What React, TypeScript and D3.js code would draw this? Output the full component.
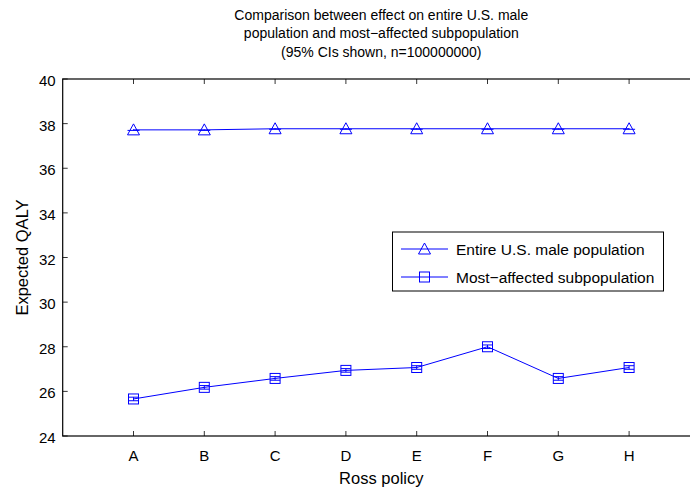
import React from 'react';
import * as d3 from 'd3';

const POLICIES = ['A', 'B', 'C', 'D', 'E', 'F', 'G', 'H'];
const ENTIRE = [37.72, 37.72, 37.77, 37.77, 37.77, 37.77, 37.77, 37.77];
const SUBPOP = [25.66, 26.18, 26.58, 26.94, 27.07, 28.0, 26.58, 27.07];
const CI_HALF = 0.08;
const Y_TICKS = [24, 26, 28, 30, 32, 34, 36, 38, 40];
const TITLE = [
  'Comparison between effect on entire U.S. male',
  'population and most\u2212affected subpopulation',
  '(95% CIs shown, n=100000000)',
];
const LEGEND = ['Entire U.S. male population', 'Most\u2212affected subpopulation'];

const W = 690;
const H = 489;
const FONT = 'Liberation Sans, Arial, Helvetica, sans-serif';
const BLUE = '#0000ff';

const triangle = (x: number, y: number) =>
  `M${x},${y - 6} L${x + 6},${y + 5} L${x - 6},${y + 5} Z`;

const App = () => {
  const left = 62.7;
  const top = 79;
  const bottom = 436;
  const x = d3.scaleLinear().domain([0, 9]).range([left, left + 9 * 70.8]);
  const y = d3.scaleLinear().domain([24, 40]).range([bottom, top]);
  const right = x(9);
  const line = d3
    .line<number>()
    .x((_, i) => x(i + 1))
    .y((d) => y(d));
  const tickLen = 5;

  return (
    <svg
      width={W}
      height={H}
      style={{ position: 'absolute', left: 0, top: 0, background: '#fff' }}
      fontFamily={FONT}
    >
      <rect x={0} y={0} width={W} height={H} fill="#fff" />
      {/* title */}
      {TITLE.map((t, i) => (
        <text key={'t' + i} x={(left + right) / 2} y={19.5 + i * 18.5} textAnchor="middle" fontSize={14}>
          {t}
        </text>
      ))}
      {/* box */}
      <rect x={left} y={top} width={right - left} height={bottom - top} fill="none" stroke="#000" strokeWidth={1.2} />
      {/* x ticks */}
      {POLICIES.map((p, i) => {
        const xx = x(i + 1);
        return (
          <g key={'xt' + p}>
            <line x1={xx} x2={xx} y1={bottom} y2={bottom - tickLen} stroke="#000" strokeWidth={0.8} />
            <line x1={xx} x2={xx} y1={top} y2={top + tickLen} stroke="#000" strokeWidth={0.8} />
            <text x={xx} y={bottom + 24.5} textAnchor="middle" fontSize={15}>
              {p}
            </text>
          </g>
        );
      })}
      {/* y ticks */}
      {Y_TICKS.map((t) => {
        const yy = y(t);
        return (
          <g key={'yt' + t}>
            <line x1={left} x2={left + tickLen} y1={yy} y2={yy} stroke="#000" strokeWidth={0.8} />
            <text x={left - 7} y={yy + 7} textAnchor="end" fontSize={15}>
              {t}
            </text>
          </g>
        );
      })}
      <text x={(left + right) / 2} y={484} textAnchor="middle" fontSize={16.5}>
        Ross policy
      </text>
      <text
        transform={`translate(28,${(top + bottom) / 2}) rotate(-90)`}
        textAnchor="middle"
        fontSize={16.5}
      >
        Expected QALY
      </text>
      {/* series */}
      <path d={line(ENTIRE) || ''} fill="none" stroke={BLUE} strokeWidth={1} />
      <path d={line(SUBPOP) || ''} fill="none" stroke={BLUE} strokeWidth={1} />
      {ENTIRE.map((v, i) => {
        const xx = x(i + 1);
        return (
          <g key={'e' + i} stroke={BLUE} fill="none" strokeWidth={1}>
            <line x1={xx} x2={xx} y1={y(v + CI_HALF * 0.3)} y2={y(v - CI_HALF * 0.3)} />
            <line x1={xx - 6} x2={xx + 6} y1={y(v - CI_HALF * 0.3)} y2={y(v - CI_HALF * 0.3)} />
            <path d={triangle(xx, y(v))} />
          </g>
        );
      })}
      {SUBPOP.map((v, i) => {
        const xx = x(i + 1);
        return (
          <g key={'s' + i} stroke={BLUE} fill="none" strokeWidth={1}>
            <line x1={xx} x2={xx} y1={y(v + CI_HALF)} y2={y(v - CI_HALF)} />
            <line x1={xx - 5} x2={xx + 5} y1={y(v + CI_HALF)} y2={y(v + CI_HALF)} />
            <line x1={xx - 5} x2={xx + 5} y1={y(v - CI_HALF)} y2={y(v - CI_HALF)} />
            <rect x={xx - 5} y={y(v) - 5} width={10} height={10} />
          </g>
        );
      })}
      {/* legend */}
      <g>
        <rect x={392.5} y={232} width={271} height={59} fill="#fff" stroke="#000" strokeWidth={1} />
        {LEGEND.map((l, i) => {
          const ly = 249 + i * 28;
          return (
            <g key={'l' + i}>
              <line x1={401} x2={448} y1={ly} y2={ly} stroke={BLUE} strokeWidth={1} />
              {i === 0 ? (
                <path d={triangle(424.5, ly)} stroke={BLUE} fill="none" />
              ) : (
                <rect x={419.5} y={ly - 5} width={10} height={10} stroke={BLUE} fill="none" />
              )}
              <text x={456} y={ly + 5.5} fontSize={15.5}>
                {l}
              </text>
            </g>
          );
        })}
      </g>
    </svg>
  );
};

export default App;
